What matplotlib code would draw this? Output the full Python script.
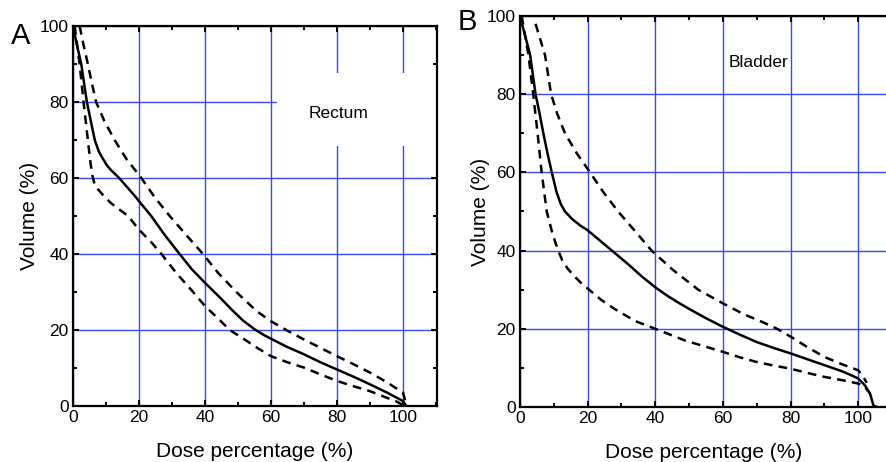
import numpy as np
import matplotlib
matplotlib.use('Agg')
import matplotlib.pyplot as plt
from matplotlib.patches import Rectangle
from matplotlib.ticker import MultipleLocator

font_size = 12

plt.rcParams.update({
    'font.family': ['Liberation Sans', 'DejaVu Sans'],
    'font.size': font_size,
    'axes.linewidth': 1.6,
    'xtick.direction': 'in',
    'ytick.direction': 'in',
    'xtick.major.size': 4,
    'ytick.major.size': 4,
    'xtick.minor.size': 3,
    'ytick.minor.size': 3,
    'xtick.major.width': 1.4,
    'ytick.major.width': 1.4,
    'xtick.minor.width': 1.4,
    'ytick.minor.width': 1.4,
})

grid_color = '#3848f0'

# Rectum (panel A) dose-volume curves
rect_mean_x = [0, 1.2, 2.5, 4.2, 5.4, 6.6, 7.8, 9.1, 10.3, 11.6, 14, 19, 20, 23.7, 27.8, 32.3, 36, 40, 44, 48.5,
               51.5, 55, 58, 60, 65, 70, 75, 80, 85, 90, 95, 100, 101]
rect_mean_y = [100, 95, 90, 80, 75, 70, 67, 65, 63.3, 62, 60, 55, 53.9, 50, 45, 40, 36, 32.4, 29, 25,
               22.5, 20.2, 18.6, 17.7, 15.5, 13.6, 11.5, 9.6, 7.7, 5.7, 3.6, 1.3, 0]
rect_up_x = [2, 3.2, 4.5, 5.7, 7, 9.5, 12.6, 16.2, 20.7, 24.7, 29.3, 34.3, 39.4, 44, 49.5, 55.6,
             60, 65, 70, 75, 80, 85, 90, 95, 100, 101]
rect_up_y = [100, 95, 90, 85, 80, 75, 70, 65, 60, 55, 50, 45, 40, 35, 30, 25,
             22.3, 19.8, 17.5, 15.3, 13.1, 11, 8.8, 6.3, 3.5, 0.4]
rect_lo_x = [0.5, 2, 3.2, 4.5, 5.3, 5.9, 6.5, 7.6, 9.6, 11.5, 13.6, 16.7, 20, 23.5, 26.8, 31.3, 36.4, 40, 44, 47.5,
             52, 56, 60, 65, 70, 75, 80, 85, 90, 95, 98, 100.5]
rect_lo_y = [100, 90, 80, 70, 64, 60.5, 58.5, 57, 55, 53.4, 52, 50, 46.4, 43.3, 40, 35, 30, 26.3, 23, 20,
             17.5, 15.2, 13.1, 11.5, 10.1, 8.3, 6.6, 5.2, 3.9, 2.2, 1.2, 0]

# Bladder (panel B) dose-volume curves
blad_mean_x = [0, 1.5, 3, 4.6, 5.8, 6.9, 8.1, 9.4, 10.8, 12, 13.3, 15.5, 18, 20, 24, 28, 32, 36, 40, 44, 47, 50.2,
               55, 60, 65, 70, 75, 80, 85, 90, 95, 98, 100, 102, 103.5, 104.5, 105.5]
blad_mean_y = [100, 95, 90, 80, 75, 70, 65, 60, 55, 52, 50, 48, 46.3, 45.2, 42.3, 39.4, 36.5, 33.4, 30.6, 28.2, 26.6, 25,
               22.7, 20.5, 18.5, 16.6, 15.1, 13.7, 12.2, 10.7, 9.2, 8.1, 7.3, 5.5, 3.4, 0.4, 0]
blad_up_x = [4.6, 6, 7.4, 9.2, 11, 13.3, 16.7, 20.7, 24.6, 29, 34, 38.9, 45.3, 52.7, 60, 66, 72, 76, 80,
             85, 90, 95, 100, 101.5, 102.5]
blad_up_y = [98, 94, 90, 80, 75, 70, 65, 60, 55, 50, 45, 40, 35, 30, 26.5, 23.8, 21.6, 20, 18,
             15.3, 12.8, 11, 9.4, 7.7, 6.2]
blad_lo_x = [0.5, 1.5, 2.5, 3.9, 5.2, 6.4, 7.9, 9.4, 10.3, 11.3, 12.5, 14, 16, 18.2, 20, 24, 28.1, 34, 40, 48.8,
             55, 60, 65, 70, 75, 80, 85, 90, 95, 100, 102, 103.5]
blad_lo_y = [100, 95, 90, 80, 70, 60, 50, 45, 42.5, 40, 37.5, 35.5, 33.5, 31.6, 30.3, 27.4, 25, 22, 20, 17,
             15.4, 14.1, 12.7, 11.5, 10.6, 9.8, 8.7, 7.7, 6.9, 6, 5.1, 3.4]

xticks = [0, 20, 40, 60, 80, 100]
yticks = [0, 20, 40, 60, 80, 100]

fig = plt.figure(figsize=(8.86, 4.62), dpi=100)
axA = fig.add_axes([73/886, 56/462, 364/886, 380/462])
axB = fig.add_axes([520/886, 55/462, 368/886, 391/462])


def style(ax, xmax, ypad):
    ax.set_xlim(0, xmax)
    ax.set_ylim(0, 100)
    ax.set_xticks(xticks)
    ax.set_yticks(yticks)
    ax.xaxis.set_minor_locator(MultipleLocator(10))
    ax.yaxis.set_minor_locator(MultipleLocator(10))
    ax.tick_params(which='both', top=True, right=True, labelsize=12.5, pad=3)
    ax.grid(True, which='major', color=grid_color, lw=1.0, zorder=0)
    ax.set_axisbelow(True)
    ax.set_xlabel('Dose percentage (%)', fontsize=15, labelpad=12)
    ax.set_ylabel('Volume (%)', fontsize=15, labelpad=ypad)


dash = (0, (3.5, 2.5))

style(axA, 110.3, 0.5)
axA.add_patch(Rectangle((61.8, 68.4), 60, 19.2, facecolor='white', edgecolor='none', zorder=1))
axA.plot(rect_mean_x, rect_mean_y, color='black', lw=1.8, zorder=3)
axA.plot(rect_up_x, rect_up_y, color='black', lw=1.8, ls=dash, zorder=3)
axA.plot(rect_lo_x, rect_lo_y, color='black', lw=1.8, ls=dash, zorder=3)
axA.text(80.5, 77, 'Rectum', fontsize=12.5, ha='center', va='center', zorder=2)
axA.text(-16, 97.5, 'A', fontsize=21, ha='center', va='center', clip_on=False)

style(axB, 108.8, -2)
axB.spines['right'].set_visible(False)
axB.tick_params(which='both', right=False)
axB.plot(blad_mean_x, blad_mean_y, color='black', lw=1.8, zorder=3)
axB.plot(blad_up_x, blad_up_y, color='black', lw=1.8, ls=dash, zorder=3)
axB.plot(blad_lo_x, blad_lo_y, color='black', lw=1.8, ls=dash, zorder=3)
axB.text(70.5, 88, 'Bladder', fontsize=12.5, ha='center', va='center', zorder=2)
axB.text(-15.5, 98.5, 'B', fontsize=21, ha='center', va='center', clip_on=False)

fig.savefig('out.png', dpi=100)
